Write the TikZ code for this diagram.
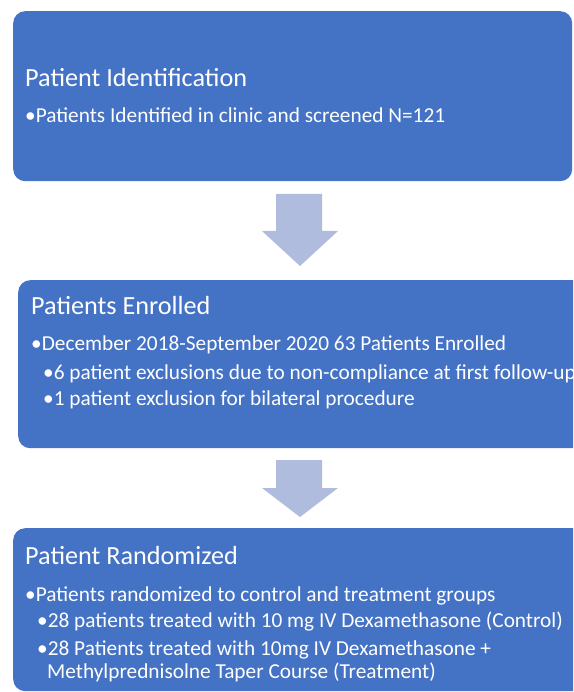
\documentclass[tikz,border=0pt]{standalone}
\usepackage{fontspec}
\setmainfont{Carlito}
\definecolor{boxblue}{RGB}{68,114,196}
\definecolor{arrowblue}{RGB}{176,188,222}
\tikzset{
	stage/.style={fill=boxblue, rounded corners=12pt, anchor=north west, inner sep=0pt},
	head/.style={anchor=base west, text=white, inner sep=0pt, font=\fontsize{26.2}{30}\selectfont},
	item/.style={anchor=base west, text=white, inner sep=0pt, font=\fontsize{21.3}{25}\selectfont},
	down/.style={fill=arrowblue}
}
\begin{document}
\begin{tikzpicture}[x=1pt, y=-1pt]
		\useasboundingbox (0,0) rectangle (573,692);
		\clip (0,0) rectangle (573,692);
		% the three stages
		\node[stage, minimum width=559pt, minimum height=170pt] (ident) at (13,11) {};
		\node[stage, minimum width=580pt, minimum height=168pt] (enrol) at (18,280) {};
		\node[stage, minimum width=580pt, minimum height=163pt] (rand) at (13,528) {};
		% block arrows between them
		\fill[down] (276,194)--(322,194)--(322,231)--(338,231)--(300,266)--(262,231)--(276,231)--cycle;
		\fill[down] (276,460)--(322,460)--(322,488)--(338,488)--(300,517)--(262,488)--(276,488)--cycle;
		% texts
		\node[head] (identT) at (25,87) {Patient Identification};
		\node[item] (identA) at (25,123) {•Patients Identified in clinic and screened N=121};
		\node[head] (enrolT) at (31,314) {Patients Enrolled};
		\node[item] (enrolA) at (31,350) {•December 2018-September 2020 63 Patients Enrolled};
		\node[item] (enrolB) at (43,379) {•6 patient exclusions due to non-compliance at first follow-up};
		\node[item] (enrolC) at (43,405) {•1 patient exclusion for bilateral procedure};
		\node[head] (randT) at (25,564) {Patient Randomized};
		\node[item] (randA) at (25,601) {•Patients randomized to control and treatment groups};
		\node[item] (randB) at (37,627) {•28 patients treated with 10 mg IV Dexamethasone (Control)};
		\node[item] (randC) at (37,655) {•28 Patients treated with 10mg IV Dexamethasone +};
		\node[item] (randD) at (47,678) {Methylprednisolne Taper Course (Treatment)};
	\end{tikzpicture}
\end{document}
